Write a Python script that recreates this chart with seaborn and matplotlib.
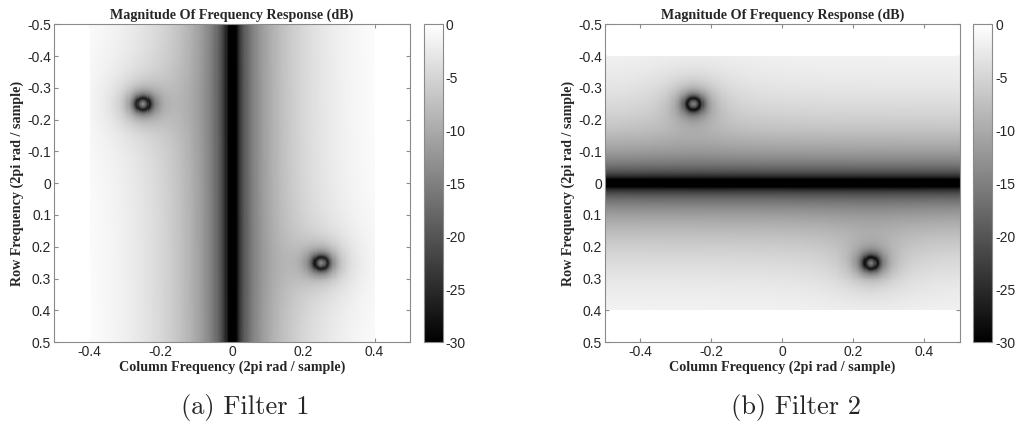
import numpy as np
import seaborn as sns
import matplotlib.pyplot as plt

# axis ticks (cycles / sample) as printed on the plots
row_ticks = [-0.5, -0.4, -0.3, -0.2, -0.1, 0, 0.1, 0.2, 0.3, 0.4, 0.5]
row_labels = ['-0.5', '-0.4', '-0.3', '-0.2', '-0.1', '0', '0.1', '0.2', '0.3', '0.4', '0.5']
col_ticks = [-0.4, -0.2, 0, 0.2, 0.4]
col_labels = ['-0.4', '-0.2', '0', '0.2', '0.4']
cbar_ticks = [0, -5, -10, -15, -20, -25, -30]
cbar_labels = ['0', '-5', '-10', '-15', '-20', '-25', '-30']

# first-difference kernels: filter 1 works along columns, filter 2 along rows
kernel_1 = [0.5, -0.5]
kernel_2 = [0.44, -0.44]

# notches (row freq, col freq), same for both filters
notch_rows = [-0.25, 0.25]
notch_cols = [-0.25, 0.25]
notch_ring = 0.018
notch_floor = 0.004
notch_width = 0.06

band_limit = 0.4   # response was only evaluated up to here
n_cells = 320

captions = ['(a) Filter 1', '(b) Filter 2']

serif = 'Liberation Serif'
sans = 'Liberation Sans'

sns.set_style('white')
plt.rcParams['font.family'] = [sans, 'DejaVu Sans']

freq = -0.5 + (np.arange(n_cells) + 0.5) / n_cells
R, C = np.meshgrid(freq, freq, indexing='ij')


def dtft_mag(kernel, f):
    k = np.arange(len(kernel))
    h = np.exp(-2j * np.pi * np.outer(f.ravel(), k)) @ np.array(kernel)
    return np.abs(h).reshape(f.shape)


def notch_gain():
    g = np.ones_like(R)
    for r0, c0 in zip(notch_rows, notch_cols):
        d = np.hypot(R - r0, C - c0) - notch_ring
        g *= np.sqrt((d ** 2 + notch_floor ** 2) / (d ** 2 + notch_width ** 2))
    return g


notch = notch_gain()
resp_1 = 20 * np.log10(dtft_mag(kernel_1, C) * notch + 1e-12)
resp_2 = 20 * np.log10(dtft_mag(kernel_2, R) * notch + 1e-12)
resp_1 = np.clip(resp_1, -30, 0)
resp_2 = np.clip(resp_2, -30, 0)
mask_1 = np.abs(C) > band_limit
mask_2 = np.abs(R) > band_limit

fig = plt.figure(figsize=(10.18, 4.33), dpi=100)
edge = '#8a8a8a'

panels = [
    (resp_1, mask_1, [0.053, 0.210, 0.350, 0.734], [0.4165, 0.210, 0.0187, 0.734], 0.241),
    (resp_2, mask_2, [0.594, 0.210, 0.349, 0.734], [0.956, 0.210, 0.0187, 0.734], 0.782),
]

for i, (resp, mask, pos, cpos, cap_x) in enumerate(panels):
    ax = fig.add_axes(pos)
    cax = fig.add_axes(cpos)
    sns.heatmap(resp, mask=mask, cmap='gray', vmin=-30, vmax=0, ax=ax, cbar_ax=cax,
                xticklabels=False, yticklabels=False, rasterized=True)

    to_pos = lambda f: [(v + 0.5) * n_cells for v in f]
    ax.set_xticks(to_pos(col_ticks))
    ax.set_xticklabels(col_labels, fontsize=10)
    ax.set_yticks(to_pos(row_ticks))
    ax.set_yticklabels(row_labels, fontsize=10, rotation=0)
    ax.tick_params(direction='in', length=3, color=edge, top=True, right=True,
                   bottom=True, left=True, pad=2)
    for s in ax.spines.values():
        s.set_visible(True)
        s.set_color(edge)
        s.set_linewidth(0.8)

    ax.set_title('Magnitude Of Frequency Response (dB)', fontsize=10.2,
                 fontweight='bold', family=serif, pad=4)
    ax.set_xlabel('Column Frequency (2pi rad / sample)', fontsize=10.2,
                  fontweight='bold', family=serif, labelpad=1)
    ax.set_ylabel('Row Frequency (2pi rad / sample)', fontsize=10.2,
                  fontweight='bold', family=serif, labelpad=2)

    cb = ax.collections[0].colorbar
    cb.set_ticks(cbar_ticks)
    cb.set_ticklabels(cbar_labels)
    cb.outline.set_linewidth(0.8)
    cb.outline.set_edgecolor(edge)
    cax.tick_params(direction='in', length=3, color=edge, left=True, right=True,
                    labelsize=10, pad=2)

    fig.text(cap_x, 0.06, captions[i], ha='center', va='center', fontsize=19,
             family=['cmr10', 'DejaVu Serif'])

fig.savefig('out.png', dpi=100)
